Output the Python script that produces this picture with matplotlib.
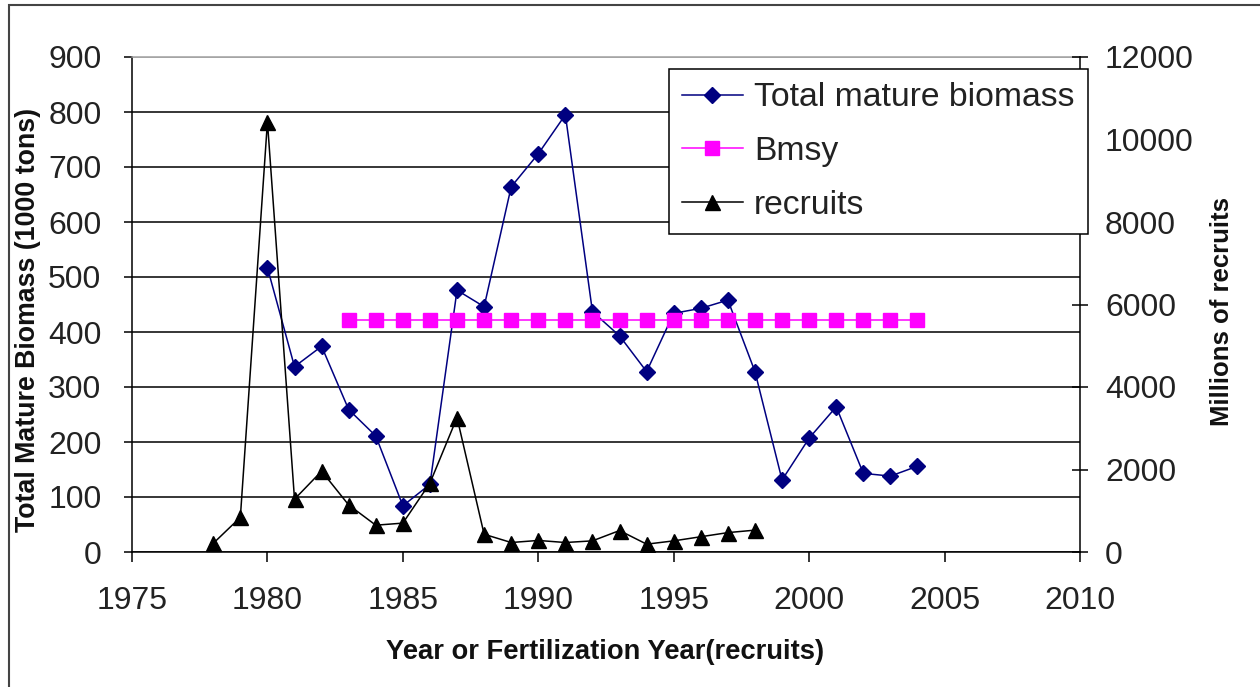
import matplotlib
matplotlib.use("Agg")
import matplotlib.pyplot as plt
from matplotlib.patches import Rectangle

# ---- data ----
biomass_years = [1980, 1981, 1982, 1983, 1984, 1985, 1986, 1987, 1988, 1989, 1990, 1991,
                 1992, 1993, 1994, 1995, 1996, 1997, 1998, 1999, 2000, 2001, 2002, 2003, 2004]
biomass = [517, 337, 374, 259, 211, 84, 123, 476, 446, 664, 724, 795,
           437, 393, 328, 434, 443, 458, 328, 131, 207, 264, 143, 138, 156]

bmsy_years = list(range(1983, 2005))
bmsy = [422] * len(bmsy_years)

recruit_years = [1978, 1979, 1980, 1981, 1982, 1983, 1984, 1985, 1986, 1987, 1988,
                 1989, 1990, 1991, 1992, 1993, 1994, 1995, 1996, 1997, 1998]
recruits = [210, 840, 10430, 1280, 1960, 1140, 650, 700, 1670, 3260, 430,
            230, 280, 230, 270, 520, 190, 270, 370, 470, 530]

x_ticks = [1975, 1980, 1985, 1990, 1995, 2000, 2005, 2010]
left_ticks = [0, 100, 200, 300, 400, 500, 600, 700, 800, 900]
right_ticks = [0, 2000, 4000, 6000, 8000, 10000, 12000]

plt.rcParams['font.family'] = ['Liberation Sans', 'DejaVu Sans']

W, H = 1260, 687
fig = plt.figure(figsize=(W / 100, H / 100), dpi=100)
fig.patch.set_facecolor('white')

ax = fig.add_axes([132 / W, 1 - 552 / H, (1080 - 132) / W, (552 - 57) / H])
ax2 = ax.twinx()

navy = '#000080'
magenta = '#FF00FF'

l1, = ax.plot(biomass_years, biomass, color=navy, lw=1.1, marker='D', ms=7.8,
              mfc=navy, mec=navy, label='Total mature biomass', zorder=3)
l2, = ax.plot(bmsy_years, bmsy, color=magenta, lw=1.1, marker='s', ms=9.6,
              mfc=magenta, mec=magenta, label='Bmsy', zorder=3)
l3, = ax2.plot(recruit_years, recruits, color='black', lw=1.1, marker='^', ms=10.8,
               mfc='black', mec='black', label='recruits', zorder=3)

ax.set_xlim(1975, 2010)
ax.set_ylim(0, 900)
ax2.set_ylim(0, 12000)

ax.set_xticks(x_ticks)
ax.set_yticks(left_ticks)
ax2.set_yticks(right_ticks)

ax.yaxis.grid(True, color='black', lw=1.1)
ax.set_axisbelow(True)
gl = ax.yaxis.get_gridlines()
gl[-1].set_color('#a0a0a0')

for s in ['left', 'bottom']:
    ax.spines[s].set_color('black')
    ax.spines[s].set_linewidth(1.1)
ax.spines['top'].set_color('#a0a0a0')
ax.spines['top'].set_linewidth(1.1)
ax.spines['right'].set_visible(False)
ax2.spines['right'].set_color('black')
ax2.spines['right'].set_linewidth(1.1)
for s in ['left', 'bottom', 'top']:
    ax2.spines[s].set_visible(False)

ax.tick_params(axis='y', direction='out', length=6, width=1.1, labelsize=23, pad=16, colors='black', labelcolor='#222222')
ax.tick_params(axis='x', direction='out', length=7.5, width=1.1, labelsize=23, pad=17, colors='black', labelcolor='#222222')
ax2.tick_params(axis='y', direction='inout', length=12, width=1.1, labelsize=23, pad=12, colors='black', labelcolor='#222222')

fig.text(28 / W, 1 - 320 / H, 'Total Mature Biomass (1000 tons)', rotation=90,
         ha='center', va='center', fontsize=19.3, fontweight='bold', color='#111111')
fig.text(1222 / W, 1 - 312 / H, 'Millions of recruits', rotation=90,
         ha='center', va='center', fontsize=18.5, fontweight='bold', color='#111111')
fig.text(605 / W, 1 - 652 / H, 'Year or Fertilization Year(recruits)',
         ha='center', va='center', fontsize=19.7, fontweight='bold', color='#111111')

leg = ax2.legend(handles=[l1, l2, l3], loc='upper right',
                 bbox_to_anchor=(1088 / W, 1 - 69 / H), bbox_transform=fig.transFigure,
                 borderaxespad=0, fancybox=False, framealpha=1, edgecolor='black',
                 fontsize=24.3, handlelength=1.8, handletextpad=0.33, labelspacing=0.67,
                 borderpad=0.4)
leg.get_frame().set_linewidth(1.1)
for t in leg.get_texts():
    t.set_color('#222222')

# outer chart-area border
fig.patches.append(Rectangle((9 / W, -0.1), 1.2, 1 - 5 / H + 0.1, transform=fig.transFigure,
                             fill=False, edgecolor='#444444', lw=1.5))

fig.savefig('out.png', dpi=100)
